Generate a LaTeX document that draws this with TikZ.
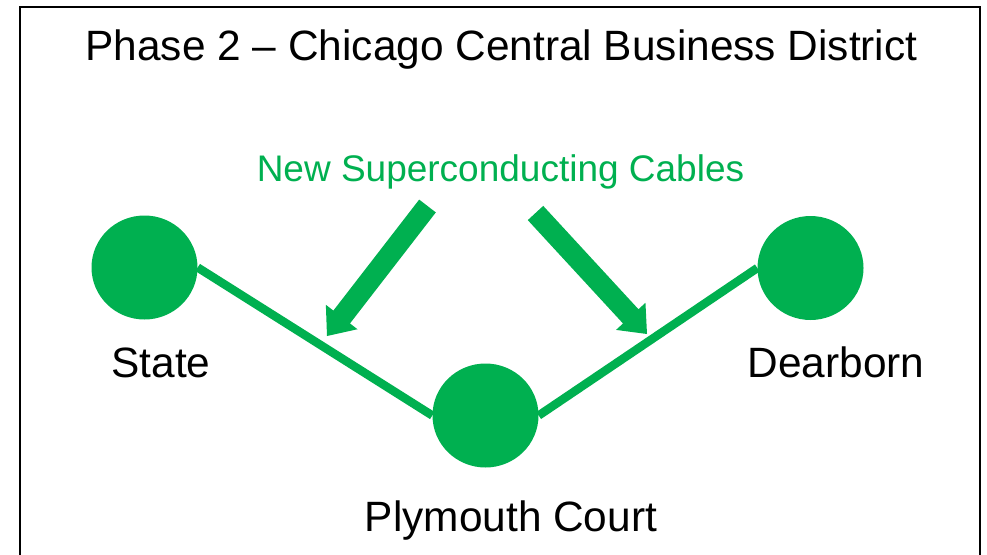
\documentclass[tikz,border=0pt]{standalone}
\usepackage{fontspec}
\setmainfont{Liberation Sans}
\usetikzlibrary{calc,shapes.geometric}
\definecolor{pgreen}{HTML}{00B050}
\tikzset{
  station/.style={ellipse,fill=pgreen,draw=none,inner sep=0pt,minimum width=106pt,minimum height=104pt},
  cable/.style={draw=pgreen,line width=8.5pt},
  lbl/.style={anchor=base,inner sep=0pt,font=\fontsize{42.4}{50}\selectfont},
  glbl/.style={anchor=base,inner sep=0pt,text=pgreen,font=\fontsize{37}{44}\selectfont}
}
\newcommand{\blockarrow}[2]{%
  \path coordinate (hb) at ($(#2)!24pt!(#1)$);
  \fill[pgreen] ($(#1)!10.5pt!90:(#2)$) -- ($(hb)!10.5pt!90:(#2)$) -- ($(hb)!20pt!90:(#2)$)
    -- (#2) -- ($(hb)!20pt!-90:(#2)$) -- ($(hb)!10.5pt!-90:(#2)$) -- ($(#1)!10.5pt!-90:(#2)$) -- cycle;}
\begin{document}
\begin{tikzpicture}[x=1pt,y=-1pt]
\useasboundingbox (0,0) rectangle (987,554);
\draw[line width=1.6pt] (20,7) -- (980,7) -- (980,580) -- (20,580) -- cycle;
\node[lbl] (title) at (501.5,60) {Phase 2 – Chicago Central Business District};
\node[glbl] (cables) at (500.5,181) {New Superconducting Cables};
\node[station] (st) at (144.5,267.5) {};
\node[station] (pc) at (485.5,415.5) {};
\node[station] (db) at (810.5,268) {};
\node[lbl] (stl) at (161,377) {State};
\node[lbl] (dbl) at (836,377) {Dearborn};
\node[lbl] (pcl) at (511,531) {Plymouth Court};
\draw[cable] (st.east) -- (pc.west);
\draw[cable] (pc.east) -- (db.west);
\coordinate (la) at (427.5,206);
\coordinate (lt) at (327,336);
\coordinate (ra) at (535.5,213);
\coordinate (rt) at (647,334);
\blockarrow{la}{lt}
\blockarrow{ra}{rt}
\end{tikzpicture}
\end{document}
